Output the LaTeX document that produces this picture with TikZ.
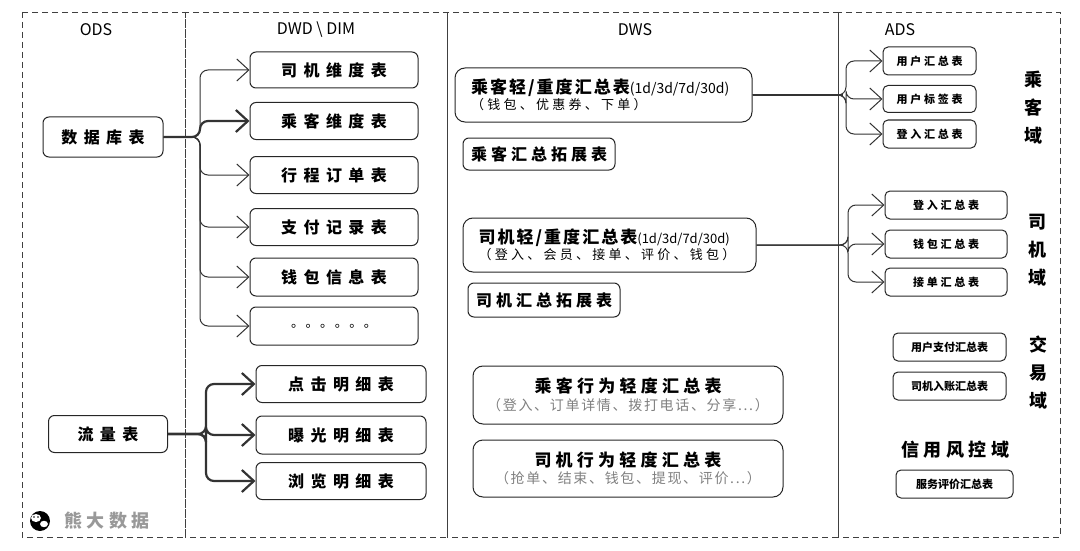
\documentclass[tikz,border=0pt]{standalone}
\usepackage{fontspec}
\setmainfont{Noto Sans CJK SC}
\newfontfamily\cjkwide{Noto Sans CJK SC}[LetterSpace=40]
\newfontfamily\cjkmid{Noto Sans CJK SC}[LetterSpace=25]
\newfontfamily\cjknarrow{Noto Sans CJK SC}[LetterSpace=12]
\usetikzlibrary{arrows.meta}
\tikzset{
  col/.style={draw=black!75, dashed, dash pattern=on 6pt off 4pt, line width=0.8pt},
  tbl/.style={draw=black!85, rounded corners=6pt, line width=1pt, font=\cjkwide\fontsize{16}{18}\selectfont\bfseries, inner sep=0pt},
  sml/.style={draw=black!85, rounded corners=5pt, line width=1pt, font=\cjkmid\fontsize{11}{12}\selectfont\bfseries, inner sep=0pt},
  big/.style={draw=black!85, rounded corners=10pt, line width=1pt, align=left, inner sep=0pt},
  head/.style={font=\fontsize{16}{18}\selectfont},
  dom/.style={font=\fontsize{18}{20}\selectfont\bfseries, align=center},
  flow/.style={draw=black!80, line width=1pt, rounded corners=8pt, -{Straight Barb[length=12pt,width=22pt]}},
  bold flow/.style={flow, line width=2.2pt},
}
\begin{document}
\begin{tikzpicture}[x=1pt,y=-1pt]
\useasboundingbox (0,0) rectangle (1080,551);
% columns
\draw [col] (22,12) rectangle (185,537);
\draw [col] (185,12) rectangle (447,537);
\draw [col] (447,12) rectangle (838,537);
\draw [col] (838,12) rectangle (1060,537);
\node [head] (hods) at (96,30) {ODS};
\node [head] (hdwd) at (316,30) {DWD \textbackslash\ DIM};
\node [head] (hdws) at (635,30) {DWS};
\node [head] (hads) at (900,30) {ADS};

% ODS
\node [tbl, minimum width=120pt, minimum height=40pt] (db) at (103,137) {数据库表};
\node [tbl, minimum width=119pt, minimum height=37pt] (log) at (108,434) {流量表};

% DWD / DIM
\node [tbl, minimum width=168pt, minimum height=36pt] (driverdim) at (334,70) {司机维度表};
\node [tbl, minimum width=168pt, minimum height=37pt] (passdim) at (334,121) {乘客维度表};
\node [tbl, minimum width=168pt, minimum height=37pt] (order) at (334,175) {行程订单表};
\node [tbl, minimum width=168pt, minimum height=37pt] (pay) at (334,227) {支付记录表};
\node [tbl, minimum width=168pt, minimum height=38pt] (wallet) at (334,277) {钱包信息表};
\node [tbl, minimum width=168pt, minimum height=38pt, font=\cjknarrow\fontsize{13}{14}\selectfont] (more) at (334,326) {。。。。。。};
\node [tbl, minimum width=170pt, minimum height=37pt] (click) at (341,384) {点击明细表};
\node [tbl, minimum width=170pt, minimum height=38pt] (expo) at (341,435) {曝光明细表};
\node [tbl, minimum width=170pt, minimum height=37pt] (view) at (341,481) {浏览明细表};

\foreach \t in {driverdim,order,pay,wallet,more}
  \draw [flow] (db.east) -- (200,137) |- (\t.west);
\draw [bold flow] (db.east) -- (200,137) |- (passdim.west);
\foreach \t in {click,expo,view}
  \draw [bold flow] (log.east) -- (206,434) |- (\t.west);

% DWS
\node [big, minimum width=297pt, minimum height=54pt, text width=265pt] (passsum) at (603.5,95)
  {\mbox{\cjknarrow\fontsize{17}{19}\selectfont\bfseries 乘客轻/重度汇总表}\mbox{\fontsize{14}{17}\selectfont(1d/3d/7d/30d)}\\[1pt]
   \mbox{\cjkmid\fontsize{13}{15}\selectfont（ 钱包、优惠券、下单 ）}};
\node [tbl, minimum width=152pt, minimum height=32pt, font=\cjkmid\fontsize{16}{18}\selectfont\bfseries] (passext) at (539,154) {乘客汇总拓展表};
\node [big, minimum width=293pt, minimum height=54pt, text width=262pt] (drvsum) at (609.5,245)
  {\mbox{\cjknarrow\fontsize{17}{19}\selectfont\bfseries 司机轻/重度汇总表}\mbox{\fontsize{13}{17}\selectfont(1d/3d/7d/30d)}\\[1pt]
   \mbox{\cjkmid\fontsize{13}{15}\selectfont（ 登入、会员、接单、评价、钱包 ）}};
\node [tbl, minimum width=152pt, minimum height=34pt, font=\cjkmid\fontsize{16}{18}\selectfont\bfseries] (drvext) at (544,300) {司机汇总拓展表};
\node [big, minimum width=310pt, minimum height=58pt, align=center] (passact) at (628,395)
  {{\cjkmid\fontsize{17}{19}\selectfont\bfseries 乘客行为轻度汇总表}\\[3pt]
   {\cjknarrow\fontsize{14}{16}\selectfont\color{black!50}（登入、订单详情、拨打电话、分享...）}};
\node [big, minimum width=310pt, minimum height=57pt, align=center] (drvact) at (628,468.5)
  {{\cjkmid\fontsize{17}{19}\selectfont\bfseries 司机行为轻度汇总表}\\[3pt]
   {\cjknarrow\fontsize{14}{16}\selectfont\color{black!50}（抢单、结束、钱包、提现、评价...）}};

% ADS
\node [sml, minimum width=93pt, minimum height=28pt] (usersum) at (929.5,61) {用户汇总表};
\node [sml, minimum width=93pt, minimum height=27pt] (usertag) at (929.5,99) {用户标签表};
\node [sml, minimum width=93pt, minimum height=28pt] (plogin) at (929.5,134) {登入汇总表};
\node [sml, minimum width=122pt, minimum height=28pt] (dlogin) at (946,205) {登入汇总表};
\node [sml, minimum width=122pt, minimum height=28pt] (dwallet) at (946,244) {钱包汇总表};
\node [sml, minimum width=122pt, minimum height=28pt] (dorder) at (946,282) {接单汇总表};
\node [sml, minimum width=113pt, minimum height=28pt, font=\fontsize{11}{12}\selectfont\bfseries] (userpay) at (949.5,347) {用户支付汇总表};
\node [sml, minimum width=113pt, minimum height=28pt, font=\fontsize{11}{12}\selectfont\bfseries] (drvin) at (949.5,386) {司机入账汇总表};
\node [sml, minimum width=117pt, minimum height=28pt, font=\fontsize{11}{12}\selectfont\bfseries] (service) at (954.5,484) {服务评价汇总表};

\node [dom] (passdom) at (1033,108) {乘\\[8pt]客\\[8pt]域};
\node [dom] (drvdom) at (1037,250) {司\\[8pt]机\\[8pt]域};
\node [dom] (tradedom) at (1038,373) {交\\[8pt]易\\[8pt]域};
\node [font=\cjkmid\fontsize{18}{20}\selectfont\bfseries] (riskdom) at (955,450) {信用风控域};

\draw [line width=2.2pt, black!80] (passsum.east) -- (843,95);
\foreach \t in {usersum,usertag,plogin}
  \draw [flow] (passsum.east) -- (846,95) |- (\t.west);
\foreach \t in {dlogin,dwallet,dorder}
  \draw [flow] (drvsum.east) -- (848,245) |- (\t.west);

% watermark
\fill [black] (40,521) circle (10pt);
\fill [white] (36,518) ellipse (5pt and 4pt);
\fill [black] (34,517) circle (0.9pt) (38,517) circle (0.9pt);
\fill [white] (44,524) ellipse (4pt and 3.2pt);
\node [font=\cjkmid\fontsize{18}{20}\selectfont\bfseries, text=black!40] (mark) at (107,521) {熊大数据};
\end{tikzpicture}
\end{document}
